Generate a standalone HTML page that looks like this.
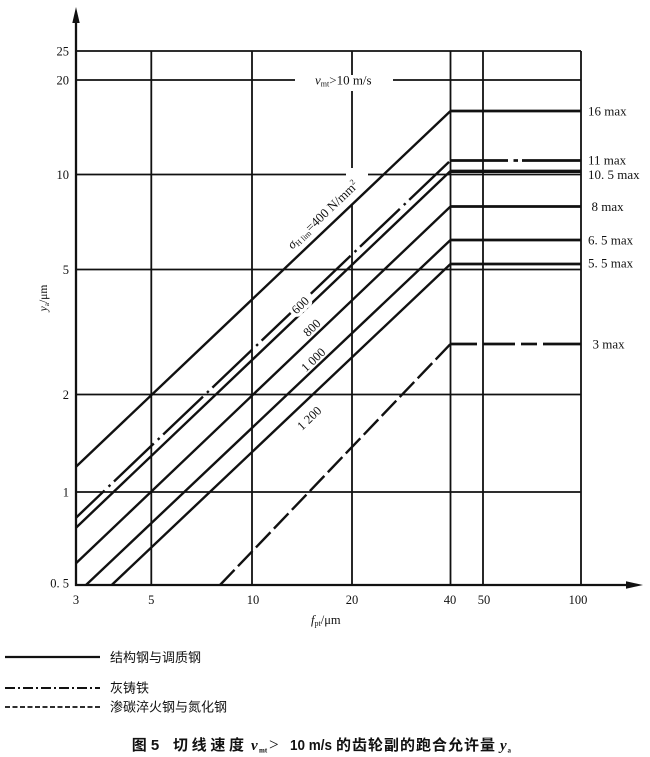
<!DOCTYPE html>
<html><head><meta charset="utf-8">
<style>
html,body{margin:0;padding:0;background:#fff;}
svg{display:block;}
.n{font-family:"Liberation Serif",serif;font-size:12.5px;fill:#111;}
.r{font-family:"Liberation Serif",serif;font-size:13px;fill:#111;}
.g{stroke:#111;stroke-width:1.8;fill:none;}
.d{stroke:#111;stroke-width:2.4;fill:none;stroke-linecap:butt;}
.c{stroke:#111;stroke-width:2.7;fill:none;}
.lg{font-family:"Liberation Sans","Noto Sans CJK SC",sans-serif;font-size:13px;fill:#111;}
</style></head>
<body>
<svg width="650" height="757" viewBox="0 0 650 757" xmlns="http://www.w3.org/2000/svg">
<rect width="650" height="757" fill="#fff"/>

<!-- horizontal grid -->
<line class="g" x1="76" y1="51" x2="581" y2="51"/>
<line class="g" x1="76" y1="80" x2="295" y2="80"/>
<line class="g" x1="393" y1="80" x2="581" y2="80"/>
<line class="g" x1="76" y1="174.5" x2="346" y2="174.5"/>
<line class="g" x1="368" y1="174.5" x2="581" y2="174.5"/>
<line class="g" x1="76" y1="269.5" x2="581" y2="269.5"/>
<line class="g" x1="76" y1="394.5" x2="581" y2="394.5"/>
<line class="g" x1="76" y1="492" x2="581" y2="492"/>

<!-- vertical grid -->
<line class="g" x1="151.3" y1="51" x2="151.3" y2="585"/>
<line class="g" x1="252" y1="51" x2="252" y2="585"/>
<line class="g" x1="352" y1="51" x2="352" y2="75"/>
<line class="g" x1="352" y1="91" x2="352" y2="168"/>
<line class="g" x1="352" y1="204" x2="352" y2="585"/>
<line class="g" x1="450.5" y1="51" x2="450.5" y2="585"/>
<line class="g" x1="483" y1="51" x2="483" y2="585"/>
<line class="g" x1="581" y1="51" x2="581" y2="585"/>

<!-- axes -->
<line x1="76" y1="586" x2="76" y2="18" stroke="#111" stroke-width="2.3"/>
<polygon points="76,7 72.3,23 79.7,23" fill="#111"/>
<line x1="75" y1="585" x2="630" y2="585" stroke="#111" stroke-width="2.3"/>
<polygon points="643,585 626,581.3 626,588.7" fill="#111"/>

<!-- diagonals -->
<line class="d" x1="76" y1="466.7" x2="450.5" y2="111"/>
<line class="d" x1="76" y1="517.7" x2="450.5" y2="160.5" stroke-dasharray="55 5.5 2.5 5" stroke-dashoffset="15.5"/>
<line class="d" x1="76" y1="527.7" x2="450.5" y2="171"/>
<line class="d" x1="76" y1="563.3" x2="450.5" y2="206.5"/>
<line class="d" x1="86" y1="585" x2="450.5" y2="240"/>
<line class="d" x1="111.7" y1="585" x2="450.5" y2="264"/>
<line class="d" x1="220" y1="585" x2="450.5" y2="344" stroke-dasharray="21 5"/>

<!-- caps -->
<line class="c" x1="450" y1="111" x2="581" y2="111"/>
<line class="c" x1="450" y1="160.5" x2="508" y2="160.5"/>
<line class="c" x1="513.5" y1="160.5" x2="518" y2="160.5"/>
<line class="c" x1="522" y1="160.5" x2="581" y2="160.5"/>
<line x1="450" y1="171.3" x2="581" y2="171.3" stroke="#111" stroke-width="3.3"/>
<line class="c" x1="450" y1="206.5" x2="581" y2="206.5"/>
<line class="c" x1="450" y1="240" x2="581" y2="240"/>
<line class="c" x1="450" y1="264" x2="581" y2="264"/>
<line class="c" x1="450" y1="344" x2="477" y2="344"/>
<line class="c" x1="483" y1="344" x2="515" y2="344"/>
<line class="c" x1="521" y1="344" x2="537" y2="344"/>
<line class="c" x1="543" y1="344" x2="581" y2="344"/>

<!-- right labels -->
<text class="r" x="588" y="115.5">16 max</text>
<text class="r" x="588" y="164.5">11 max</text>
<text class="r" x="588" y="179">10. 5 max</text>
<text class="r" x="591.5" y="211">8 max</text>
<text class="r" x="588" y="244.5">6. 5 max</text>
<text class="r" x="588" y="267.5">5. 5 max</text>
<text class="r" x="592.5" y="348.5">3 max</text>

<!-- vmt label -->
<text class="r" x="315" y="84.5"><tspan style="font-style:italic">v</tspan><tspan style="font-size:8px" dy="2">mt</tspan><tspan dy="-2">&gt;10 m/s</tspan></text>

<!-- diagonal labels -->
<g transform="rotate(-43.6 323 215)">
<text class="r" x="323" y="219" text-anchor="middle"><tspan style="font-style:italic">σ</tspan><tspan style="font-size:8px" dy="2">H lim</tspan><tspan dy="-2">=400 N/mm</tspan><tspan style="font-size:8px" dy="-5">2</tspan></text>
</g>
<g transform="rotate(-43.6 300 305)">
<text class="n" x="300" y="309.5" text-anchor="middle" stroke="#fff" stroke-width="7" paint-order="stroke">600</text>
</g>
<g transform="rotate(-43.6 311.7 327.5)">
<text class="n" x="311.7" y="332" text-anchor="middle">800</text>
</g>
<g transform="rotate(-43.6 313 359.5)">
<text class="n" x="313" y="364" text-anchor="middle">1 000</text>
</g>
<g transform="rotate(-43.6 309 418)">
<text class="n" x="309" y="422.5" text-anchor="middle">1 200</text>
</g>

<!-- y tick labels -->
<text class="n" x="69" y="55.5" text-anchor="end">25</text>
<text class="n" x="69" y="84.5" text-anchor="end">20</text>
<text class="n" x="69" y="179" text-anchor="end">10</text>
<text class="n" x="69" y="274" text-anchor="end">5</text>
<text class="n" x="69" y="399" text-anchor="end">2</text>
<text class="n" x="69" y="496.5" text-anchor="end">1</text>
<text class="n" x="69" y="587.5" text-anchor="end">0. 5</text>

<!-- x tick labels -->
<text class="n" x="76" y="604" text-anchor="middle">3</text>
<text class="n" x="151.3" y="604" text-anchor="middle">5</text>
<text class="n" x="253" y="604" text-anchor="middle">10</text>
<text class="n" x="352" y="604" text-anchor="middle">20</text>
<text class="n" x="450" y="604" text-anchor="middle">40</text>
<text class="n" x="484" y="604" text-anchor="middle">50</text>
<text class="n" x="578" y="604" text-anchor="middle">100</text>

<!-- axis titles -->
<text class="n" x="311" y="624"><tspan style="font-style:italic">f</tspan><tspan style="font-size:8px" dy="2">pt</tspan><tspan dy="-2">/μm</tspan></text>
<g transform="rotate(-90 43 298)">
<text x="43" y="302" text-anchor="middle" style="font-family:'Liberation Serif',serif;font-size:11.5px;fill:#111"><tspan style="font-style:italic">y</tspan><tspan style="font-size:7.5px" dy="2">a</tspan><tspan dy="-2">/μm</tspan></text>
</g>

<!-- legend -->
<line x1="5" y1="657" x2="100" y2="657" stroke="#111" stroke-width="2.3"/>
<line x1="5" y1="688" x2="100" y2="688" stroke="#111" stroke-width="2" stroke-dasharray="10 3 2 3"/>
<line x1="5" y1="707" x2="100" y2="707" stroke="#111" stroke-width="1.8" stroke-dasharray="5 2.5"/>
<text class="lg" x="110" y="662">结构钢与调质钢</text>
<text class="lg" x="110" y="692.5">灰铸铁</text>
<text class="lg" x="110" y="711.5">渗碳淬火钢与氮化钢</text>

<!-- caption -->
<text x="131.7" y="750" style="font-family:'Liberation Sans','Noto Sans CJK SC',sans-serif;font-size:15px;font-weight:bold;fill:#111">图 5</text>
<text x="173" y="750" textLength="71" lengthAdjust="spacing" style="font-family:'Liberation Sans','Noto Sans CJK SC',sans-serif;font-size:15px;font-weight:bold;fill:#111">切线速度</text>
<text x="251" y="750" style="font-family:'Liberation Serif',serif;font-size:15px;font-weight:bold;font-style:italic;fill:#111">v</text>
<text x="259" y="752.5" style="font-family:'Liberation Serif',serif;font-size:7px;font-weight:bold;fill:#111">mt</text>
<text x="269" y="750" style="font-family:'Liberation Serif',serif;font-size:17px;fill:#111">&gt;</text>
<text x="290" y="750" textLength="42" lengthAdjust="spacingAndGlyphs" style="font-family:'Liberation Sans',sans-serif;font-size:15px;font-weight:bold;fill:#111">10 m/s</text>
<text x="336" y="750" textLength="159" lengthAdjust="spacing" style="font-family:'Liberation Sans','Noto Sans CJK SC',sans-serif;font-size:15px;font-weight:bold;fill:#111">的齿轮副的跑合允许量</text>
<text x="500" y="750" style="font-family:'Liberation Serif',serif;font-size:15px;font-weight:bold;font-style:italic;fill:#111">y</text>
<text x="507.5" y="752.5" style="font-family:'Liberation Serif',serif;font-size:7px;font-weight:bold;fill:#111">a</text>
</svg>
</body></html>
